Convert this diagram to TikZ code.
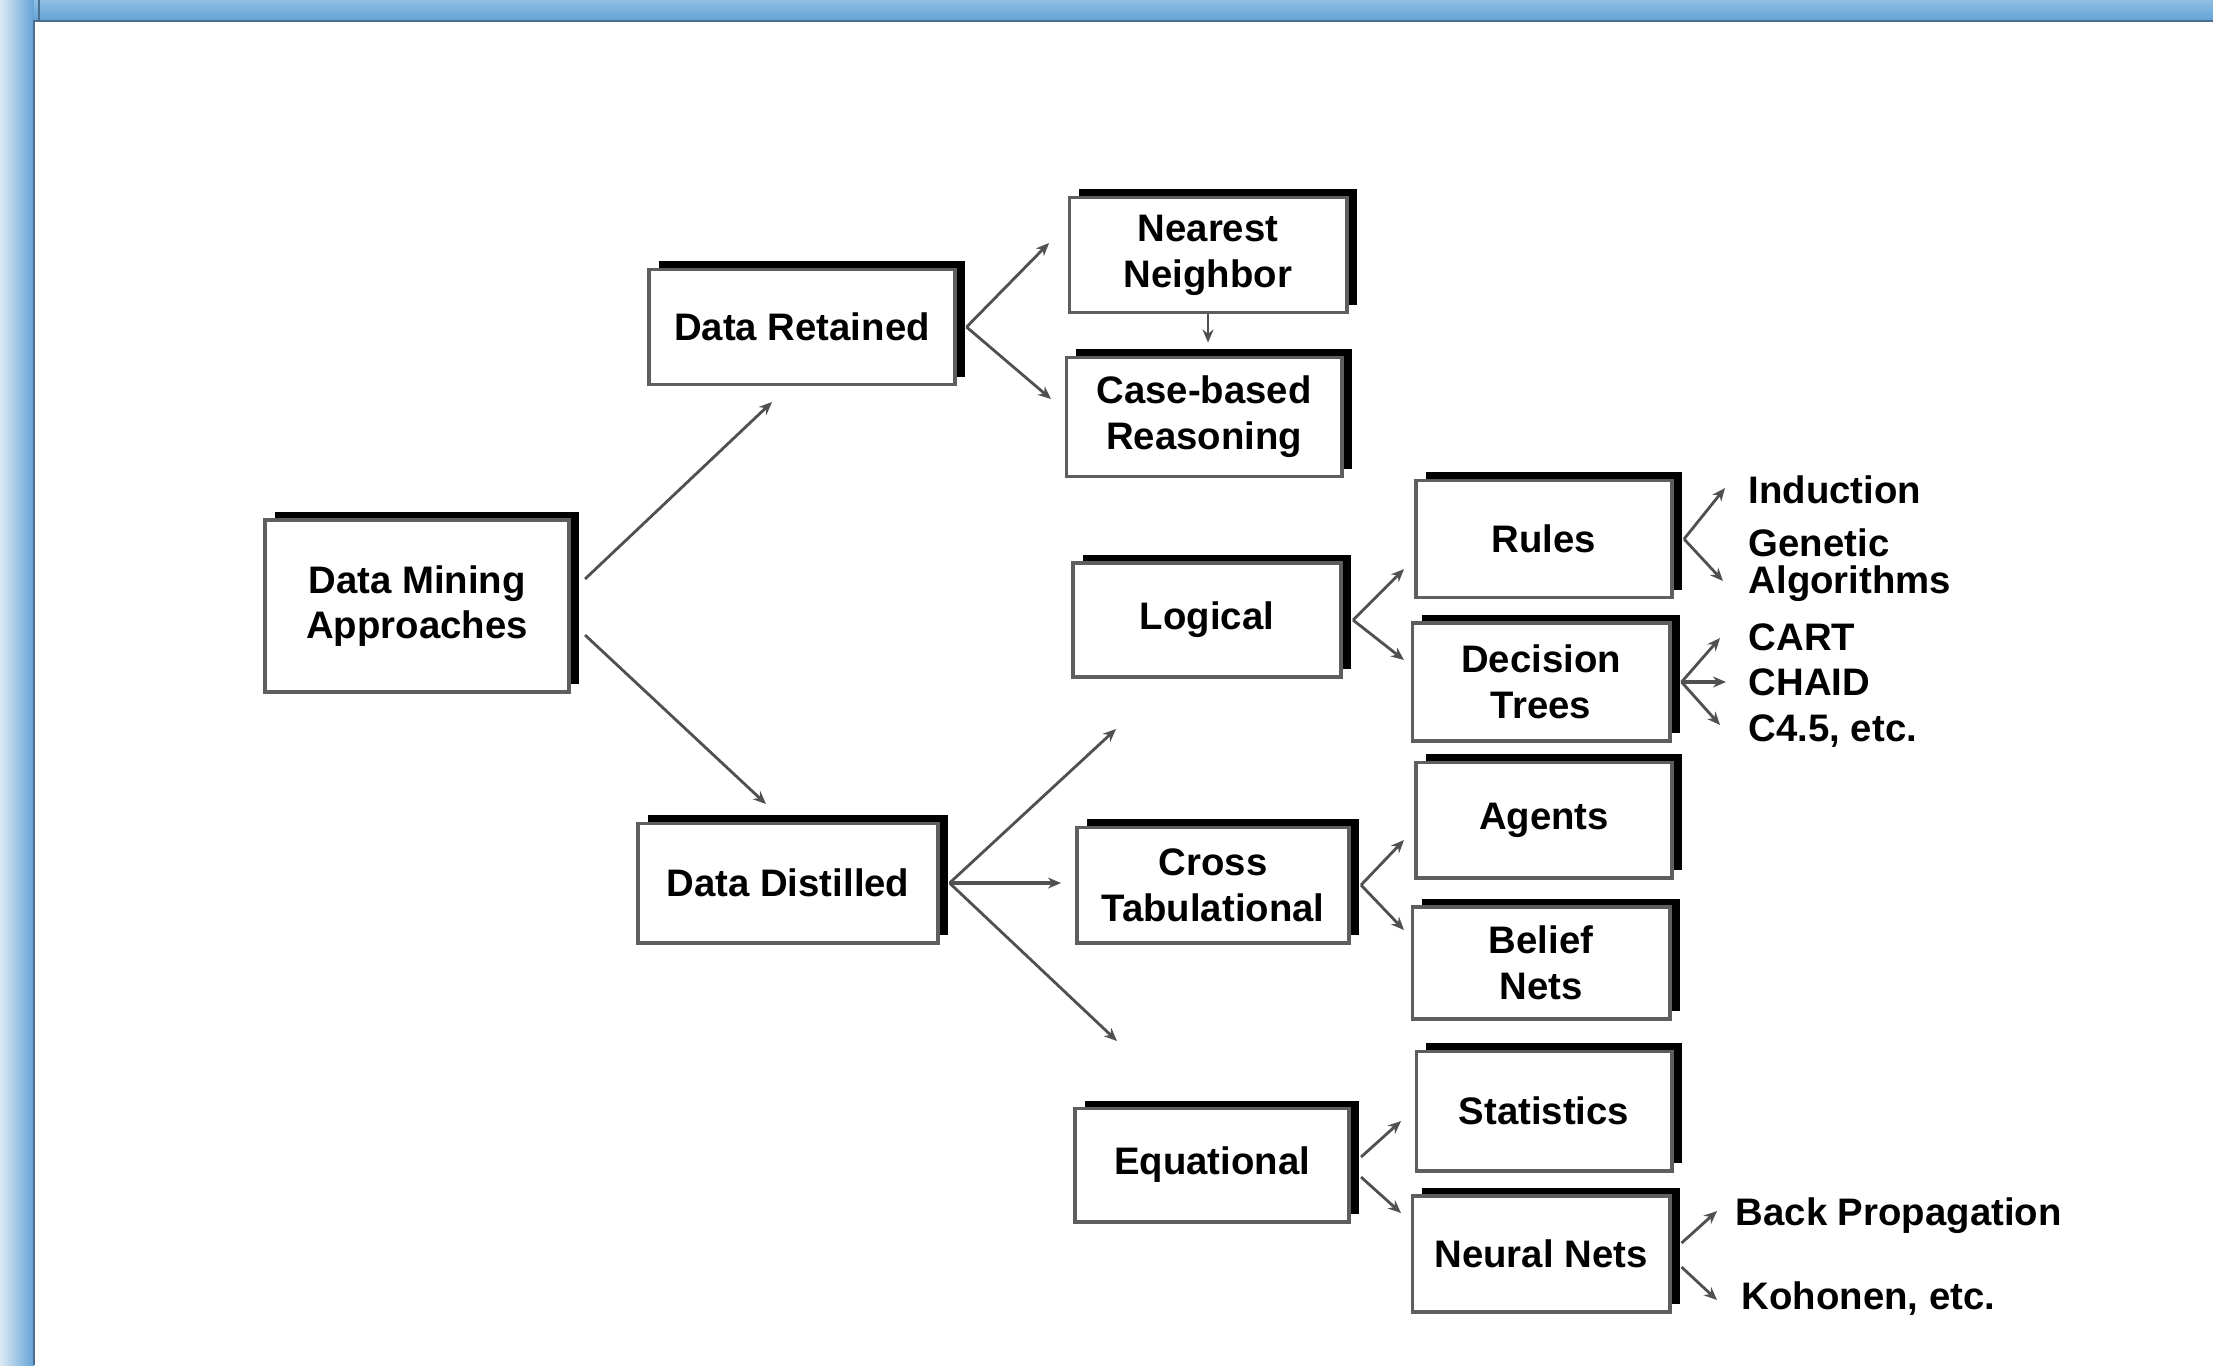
\documentclass[tikz,border=0pt]{standalone}
\usepackage{fontspec}
\setmainfont{Liberation Sans}
\usetikzlibrary{shadows,arrows.meta}

\definecolor{winblue}{HTML}{62A3D6}
\definecolor{winpale}{HTML}{DCE9F4}
\definecolor{winedge}{HTML}{4D6F8E}
\definecolor{boxgray}{HTML}{5E5E5E}
\definecolor{linegray}{HTML}{505050}

\tikzset{
	box/.style={draw=boxgray, line width=1.1pt, fill=white, align=center, inner sep=0pt,
		font=\fontsize{10.9}{13}\selectfont\bfseries,
		drop shadow={shadow xshift=1mm, shadow yshift=0.8mm, fill=black, opacity=1}},
	conn/.style={draw=linegray, line width=0.8pt, -{Stealth[length=1.3mm,width=1.1mm]}},
	leaf/.style={inner sep=0pt, anchor=base west, align=left, font=\fontsize{10.9}{10.6}\selectfont\bfseries}
}

\begin{document}
\begin{tikzpicture}[x=0.01cm,y=-0.01cm]

\useasboundingbox (0,0) rectangle (2213,1365);

% window frame
\fill[white] (0,0) rectangle (2213,1365);
\shade[left color=winpale, right color=winblue] (0,0) rectangle (34,1365);
\shade[top color=winblue!70, bottom color=winblue] (34,0) rectangle (2213,21);
\fill[winedge] (33,21) rectangle (35,1365);
\fill[winedge] (33,20) rectangle (2213,22);
\draw[winedge, line width=0.5pt] (39,0) -- (39,20);

\begin{scope}
	\coordinate (t-ret) at (772,402);
	\coordinate (t-dis) at (766,804);
	\coordinate (t-nn) at (1049,243);
	\coordinate (t-cbr) at (1051,399);
	\coordinate (t-log) at (1116,729);
	\coordinate (t-ct) at (1061,883);
	\coordinate (t-eq) at (1117,1041);
	%
	\coordinate (t-rul) at (1404,569);
	\coordinate (t-dt) at (1404,660);
	\coordinate (t-ag) at (1404,840);
	\coordinate (t-bn) at (1404,930);
	\coordinate (t-st) at (1401,1121);
	\coordinate (t-nt) at (1401,1213);
	%
	\coordinate (t-ind) at (1725,488);
	\coordinate (t-gen) at (1723,581);
	\coordinate (t-cart) at (1720,638);
	\coordinate (t-chaid) at (1726,682);
	\coordinate (t-c45) at (1720,725);
	\coordinate (t-bp) at (1717,1211);
	\coordinate (t-koh) at (1717,1300);
\end{scope}

\node[box, minimum width=3.04cm, minimum height=1.72cm] (dma) at (417,606) {Data Mining\\Approaches};
\node[box, minimum width=3.05cm, minimum height=1.15cm] (ret) at (802,327) {Data Retained};
\node[box, minimum width=2.77cm, minimum height=1.15cm] (nn) at (1208,255) {Nearest\\Neighbor};
\node[box, minimum width=2.75cm, minimum height=1.19cm] (cbr) at (1204,417) {Case-based\\Reasoning};
\node[box, minimum width=2.99cm, minimum height=1.19cm] (dis) at (788,883) {Data Distilled};
\node[box, minimum width=2.68cm, minimum height=1.14cm] (log) at (1207,620) {Logical};
\node[box, minimum width=2.72cm, minimum height=1.15cm] (ct) at (1213,885) {Cross\\Tabulational};
\node[box, minimum width=2.74cm, minimum height=1.13cm] (eq) at (1212,1165) {Equational};
\node[box, minimum width=2.56cm, minimum height=1.17cm] (rul) at (1544,539) {Rules};
\node[box, minimum width=2.57cm, minimum height=1.18cm] (dt) at (1541,682) {Decision\\Trees};
\node[box, minimum width=2.56cm, minimum height=1.15cm] (ag) at (1544,820) {Agents};
\node[box, minimum width=2.57cm, minimum height=1.12cm] (bn) at (1541,963) {Belief\\Nets};
\node[box, minimum width=2.55cm, minimum height=1.19cm] (st) at (1544,1111) {Statistics};
\node[box, minimum width=2.57cm, minimum height=1.16cm] (nt) at (1541,1254) {Neural Nets};

\node[leaf] (ind) at (1748,503) {Induction};
\node[leaf, anchor=north west] (gen) at (1748,528) {Genetic\\Algorithms};
\node[leaf] (cart) at (1748,650) {CART};
\node[leaf] (chaid) at (1748,695) {CHAID};
\node[leaf] (c45) at (1748,741) {C4.5, etc.};
\node[leaf] (bp) at (1735,1225) {Back Propagation};
\node[leaf] (koh) at (1741,1309) {Kohonen, etc.};

\draw[conn] ([xshift=1.4mm,yshift=2.7mm]dma.east) -- (t-ret);
\draw[conn] ([xshift=1.4mm,yshift=-2.9mm]dma.east) -- (t-dis);
\draw[conn] ([xshift=1mm]ret.east) -- (t-nn);
\draw[conn] ([xshift=1mm]ret.east) -- (t-cbr);
\draw[conn, shorten >=1.3mm] (nn.south) -- (nn.south |- cbr.north);
\draw[conn] ([xshift=1mm]dis.east) -- (t-log);
\draw[conn, line width=1pt] ([xshift=1mm]dis.east) -- (t-ct);
\draw[conn] ([xshift=1mm]dis.east) -- (t-eq);
\draw[conn] ([xshift=1mm]log.east) -- (t-rul);
\draw[conn] ([xshift=1mm]log.east) -- (t-dt);
\draw[conn] ([xshift=1mm]ct.east) -- (t-ag);
\draw[conn] ([xshift=1mm]ct.east) -- (t-bn);
\draw[conn] ([xshift=1mm,yshift=0.8mm]eq.east) -- (t-st);
\draw[conn] ([xshift=1mm,yshift=-1.2mm]eq.east) -- (t-nt);
\draw[conn] ([xshift=1mm]rul.east) -- (t-ind);
\draw[conn] ([xshift=1mm]rul.east) -- (t-gen);
\draw[conn] ([xshift=1mm]dt.east) -- (t-cart);
\draw[conn, line width=1pt] ([xshift=1mm]dt.east) -- (t-chaid);
\draw[conn] ([xshift=1mm]dt.east) -- (t-c45);
\draw[conn] ([xshift=1mm,yshift=1.1mm]nt.east) -- (t-bp);
\draw[conn] ([xshift=1mm,yshift=-1.3mm]nt.east) -- (t-koh);

\end{tikzpicture}
\end{document}
